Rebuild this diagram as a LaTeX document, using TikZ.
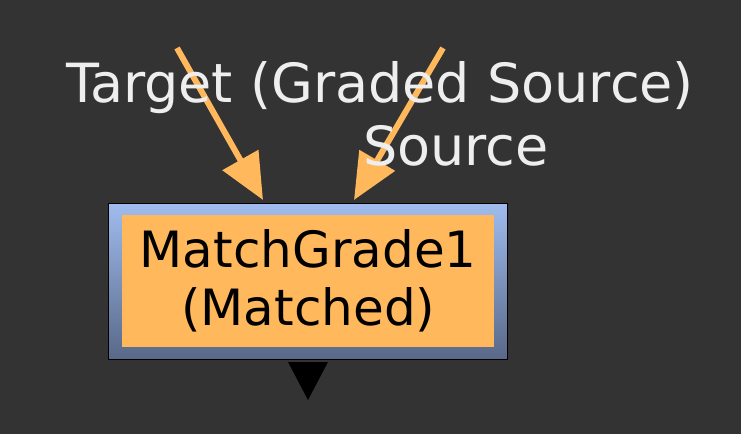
\documentclass[tikz,border=0pt]{standalone}
\usepackage{fontspec}
\setmainfont{DejaVu Sans}
\usetikzlibrary{arrows.meta}
\definecolor{bg}{HTML}{333333}
\definecolor{org}{HTML}{FFB85C}
\definecolor{txt}{HTML}{EEEEEE}
\begin{document}
\begin{tikzpicture}[x=1pt,y=-1pt,
  lbl/.style={text=txt,font=\fontsize{54}{58}\selectfont,inner sep=0pt},
  pipe/.style={org,line width=6pt,-{Triangle[length=46pt,width=40pt]}}]
\useasboundingbox[fill=bg] (0,0) rectangle (741,434);
\node[draw=black,line width=0.8pt,minimum width=399pt,minimum height=156pt,anchor=north west,
  top color={rgb,255:red,160;green,188;blue,238},bottom color={rgb,255:red,88;green,104;blue,136}] (outer) at (108,203) {};
\node[fill=org,minimum width=372pt,minimum height=132pt,anchor=north west,align=center,
  font=\fontsize{50}{58}\selectfont,inner sep=0pt] (inner) at (122,215) {MatchGrade1\\(Matched)};
\coordinate (t1) at (177,48);
\coordinate (t2) at (443,48);
\coordinate (h1) at (263,200);
\coordinate (h2) at (354,200);
\draw[pipe] (t1) -- (h1);
\draw[pipe] (t2) -- (h2);
\node[lbl] (target) at (380,88) {Target (Graded Source)};
\node[lbl] (src) at (456,146) {Source};
\fill[black] (288,362) -- (328,362) -- (308,400) -- cycle;
\end{tikzpicture}
\end{document}
